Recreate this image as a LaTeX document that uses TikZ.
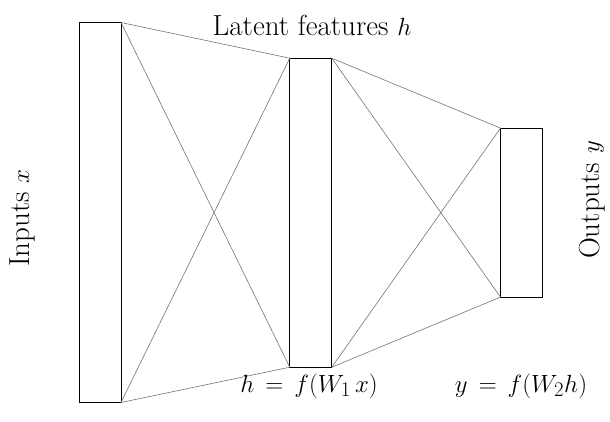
\documentclass[tikz,border=0pt]{standalone}
\usepackage{amsmath}
\begin{document}
\begin{tikzpicture}[x=1pt,y=-1pt,
  layer/.style={draw=black,line width=1pt,rectangle,minimum width=42pt,inner sep=0pt,outer sep=0pt},
  conn/.style={draw=black!55,line width=0.6pt},
  lbl/.style={font=\fontsize{29}{34}\selectfont,inner sep=0pt,anchor=base}]
\useasboundingbox (0,0) rectangle (610,421);
\node[layer,minimum height=380pt] (L) at (100,212.5) {};
\node[layer,minimum height=309pt] (M) at (310.75,212.7) {};
\node[layer,minimum height=169pt] (R) at (521.5,212.6) {};
\draw[conn] (L.north east) -- (M.north west);
\draw[conn] (L.north east) -- (M.south west);
\draw[conn] (L.south east) -- (M.north west);
\draw[conn] (L.south east) -- (M.south west);
\draw[conn] (M.north east) -- (R.north west);
\draw[conn] (M.north east) -- (R.south west);
\draw[conn] (M.south east) -- (R.north west);
\draw[conn] (M.south east) -- (R.south west);
\node[lbl] (tl) at (312,35) {Latent features $h$};
\node[lbl,rotate=90] (ti) at (29,218) {Inputs $x$};
\node[lbl,rotate=90] (to) at (599,200) {Outputs $y$};
\node[lbl] (f1) at (309,392) {$h \,=\, f(W_1\, x)$};
\node[lbl] (f2) at (521,392) {$y \,=\, f(W_2 h)$};
\end{tikzpicture}
\end{document}
